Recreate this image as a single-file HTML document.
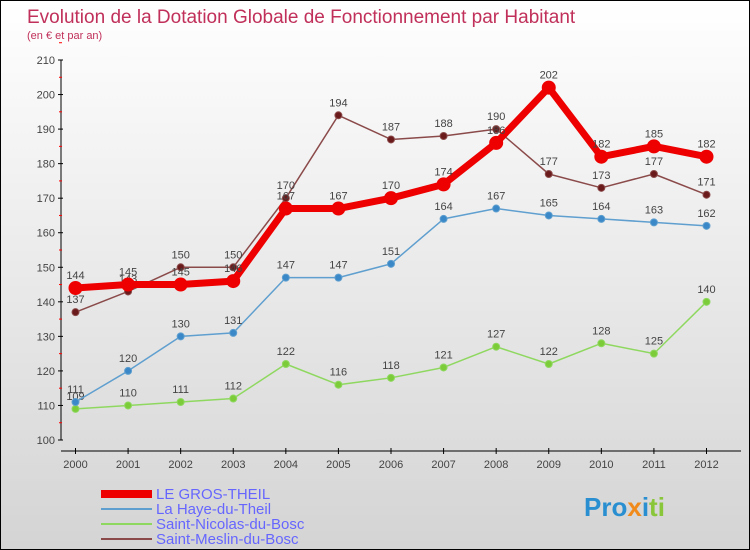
<!DOCTYPE html>
<html><head><meta charset="utf-8"><style>
body{margin:0}
#c{width:748px;height:548px;border:1px solid #000;background:linear-gradient(#fff,#d4d4d4);position:relative;font-family:"Liberation Sans",sans-serif;overflow:hidden}
</style></head><body>
<div id="c">
<svg id="s" width="748" height="548" style="position:absolute;left:0;top:0">
<text x="26" y="22" font-size="19" fill="#c0305a">Evolution de la Dotation Globale de Fonctionnement par Habitant</text>
<text x="26" y="38" font-size="11" fill="#c0305a">(en € et par an)</text>
<g id="axes"></g><g id="series"></g>
<g font-size="15" fill="#6666ff">
<rect x="100" y="489" width="51" height="8" fill="#e00"/>
<text x="155" y="498">LE GROS-THEIL</text>
<rect x="100" y="507" width="51" height="2" fill="#5f9fcf"/>
<text x="155" y="513">La Haye-du-Theil</text>
<rect x="100" y="522" width="51" height="2" fill="#8fd860"/>
<text x="155" y="528">Saint-Nicolas-du-Bosc</text>
<rect x="100" y="537" width="51" height="2" fill="#8b4a4a"/>
<text x="155" y="543">Saint-Meslin-du-Bosc</text>
</g>
<text x="583" y="515" font-size="26" font-weight="bold"><tspan fill="#2a8fd0">Pro</tspan><tspan fill="#f08a1a">x</tspan><tspan fill="#2a8fd0">i</tspan><tspan fill="#8ac63a">ti</tspan></text>
</svg>
</div>
<script>
const years=[2000,2001,2002,2003,2004,2005,2006,2007,2008,2009,2010,2011,2012];
const yTicks=[100,110,120,130,140,150,160,170,180,190,200,210];
const gros=[144,145,145,146,167,167,170,174,186,202,182,185,182];
const haye=[111,120,130,131,147,147,151,164,167,165,164,163,162];
const nicolas=[109,110,111,112,122,116,118,121,127,122,128,125,140];
const meslin=[137,143,150,150,170,194,187,188,190,177,173,177,171];
const NS="http://www.w3.org/2000/svg";
function X(i){return 74.5+i*(705.5-74.5)/(years.length-1);}
function Y(v){return 439-(v-100)*(380/110);}
function mk(t,a,p){const e=document.createElementNS(NS,t);for(const k in a)e.setAttribute(k,a[k]);p.appendChild(e);return e;}
const ax=document.getElementById('axes');
const yl=mk('line',{x1:60,y1:Y(210),x2:60,y2:Y(100),stroke:'#000','stroke-width':1},ax);


yTicks.forEach(v=>{
 mk('line',{x1:57,y1:Y(v),x2:62,y2:Y(v),stroke:'#000'},ax);
 mk('line',{x1:58,y1:Y(v+5),x2:61,y2:Y(v+5),stroke:'#f00'},ax);
 const t=mk('text',{x:54,y:Y(v)+4,'font-size':11,fill:'#444','text-anchor':'end'},ax);t.textContent=v;
 
 
});
const xl=mk('line',{x1:60,y1:450,x2:740,y2:450,stroke:'#000'},ax);


years.forEach((y,i)=>{
 mk('line',{x1:X(i),y1:447,x2:X(i),y2:453,stroke:'#000'},ax);
 const t=mk('text',{x:X(i),y:467,'font-size':11,fill:'#444','text-anchor':'middle'},ax);t.textContent=y;
 
 
});
const sg=document.getElementById('series');
function draw(d,name,col,dot,w,r){
 const g=mk('g',{},sg);
 
 
 const p=mk('polyline',{points:d.map((v,i)=>X(i)+','+Y(v)).join(' '),fill:'none',stroke:col,'stroke-width':w,'stroke-linejoin':'round'},g);
 
 
 d.forEach((v,i)=>{
  const c=mk('circle',{cx:X(i),cy:Y(v),r:r,fill:dot,stroke:col,'stroke-width':1},g);
  
  
  const t=mk('text',{x:X(i),y:Y(v)-9,'font-size':11,fill:'#444','text-anchor':'middle'},g);t.textContent=v;
  
  
 });
}
draw(nicolas,'nicolas','#8fd860','#7ccc3a',1.5,3.5);
draw(haye,'haye','#5f9fcf','#3a88c8',1.5,3.5);
draw(meslin,'meslin','#8b4a4a','#6a1a1a',1.5,3.5);
draw(gros,'gros-theil','#ee0000','#ee0000',7,6.5);
</script>
</body></html>
